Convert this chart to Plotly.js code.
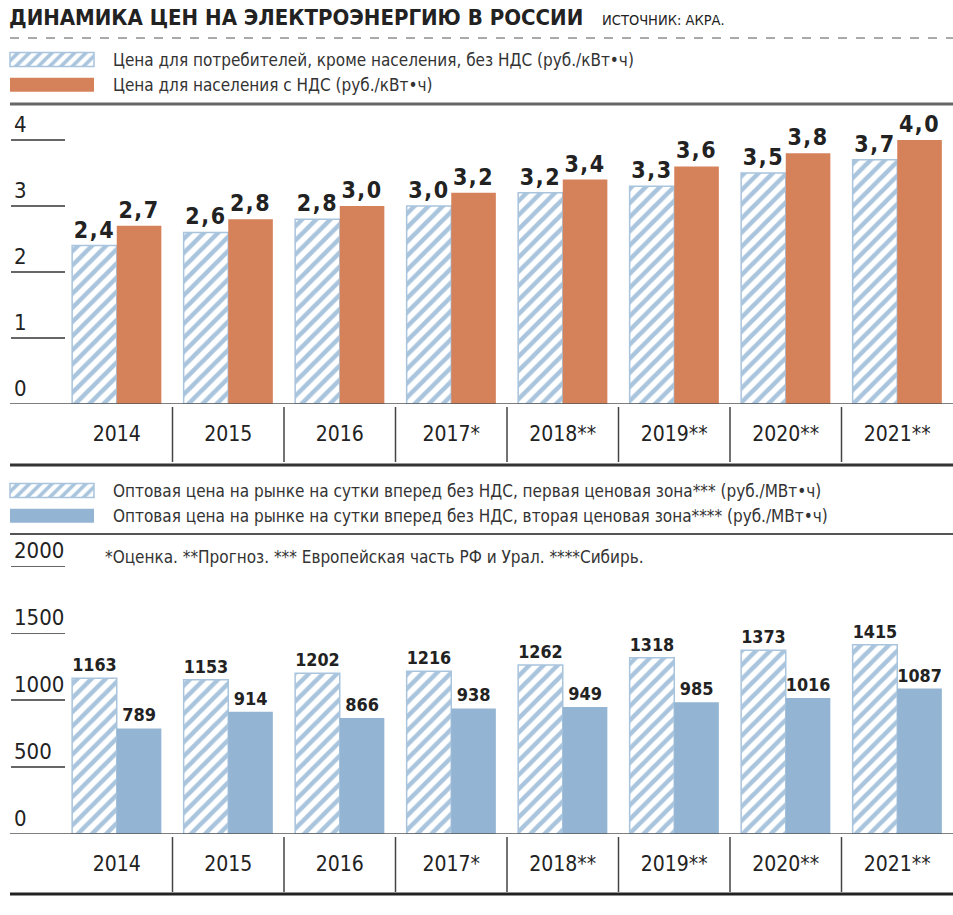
<!DOCTYPE html>
<html><head><meta charset="utf-8">
<script src="https://cdn.plot.ly/plotly-3.0.1.min.js"></script>
<style>
body{margin:0;background:#fff}
#chart{width:953px;height:915px}
.subplot.xy .bartext{letter-spacing:1.5px}
</style></head><body><div id="chart"></div>
<script>
// ---- data ----
const years = ['2014','2015','2016','2017*','2018**','2019**','2020**','2021**'];
const priceBusiness   = [2.4, 2.6, 2.8, 3.0, 3.2, 3.3, 3.5, 3.7];
const priceHouseholds = [2.7, 2.8, 3.0, 3.2, 3.4, 3.6, 3.8, 4.0];
const wholesaleZone1  = [1163, 1153, 1202, 1216, 1262, 1318, 1373, 1415];
const wholesaleZone2  = [789, 914, 866, 938, 949, 985, 1016, 1087];
const priceTicks = [0, 1, 2, 3, 4];
const wholesaleTicks = [0, 500, 1000, 1500, 2000];
const nameBusiness   = 'Цена для потребителей, кроме населения, без НДС (руб./кВт•ч)';
const nameHouseholds = 'Цена для населения с НДС (руб./кВт•ч)';
const nameZone1 = 'Оптовая цена на рынке на сутки вперед без НДС, первая ценовая зона*** (руб./МВт•ч)';
const nameZone2 = 'Оптовая цена на рынке на сутки вперед без НДС, вторая ценовая зона**** (руб./МВт•ч)';
const titleText = 'ДИНАМИКА ЦЕН НА ЭЛЕКТРОЭНЕРГИЮ В РОССИИ';
const sourceText = 'ИСТОЧНИК: АКРА.';
const footnote = '*Оценка. **Прогноз. *** Европейская часть РФ и Урал. ****Сибирь.';

// ---- style ----
const W = 953, H = 915;
const px = x => x / W;
const py = y => 1 - y / H;
const FONT = "'DejaVu Sans Condensed', 'Liberation Sans Narrow', 'Arial Narrow', sans-serif";
const HATCH = '#a9c4dd', ORANGE = '#d5825b', BLUE = '#93b5d3', INK = '#222';

const hatched = {
  color: '#ffffff',
  line: {color: HATCH, width: 1.5},
  pattern: {shape: '/', fgcolor: HATCH, bgcolor: '#ffffff', size: 10, solidity: 0.45}
};

const traces = [
  {type:'bar', x: years, y: priceBusiness, name: nameBusiness, xaxis:'x', yaxis:'y', legend:'legend',
   marker: hatched, texttemplate:'%{y:.1f}', textposition:'outside', cliponaxis:false,
   textfont:{size:23, color:INK, family:FONT, weight:'bold'}, hoverinfo:'skip'},
  {type:'bar', x: years, y: priceHouseholds, name: nameHouseholds, xaxis:'x', yaxis:'y', legend:'legend',
   marker:{color: ORANGE}, texttemplate:'%{y:.1f}', textposition:'outside', cliponaxis:false,
   textfont:{size:23, color:INK, family:FONT, weight:'bold'}, hoverinfo:'skip'},
  {type:'bar', x: years, y: wholesaleZone1, name: nameZone1, xaxis:'x2', yaxis:'y2', legend:'legend2',
   marker: hatched, texttemplate:'%{y:d}', textposition:'outside', cliponaxis:false,
   textfont:{size:18, color:INK, family:FONT, weight:'bold'}, hoverinfo:'skip'},
  {type:'bar', x: years, y: wholesaleZone2, name: nameZone2, xaxis:'x2', yaxis:'y2', legend:'legend2',
   marker:{color: BLUE}, texttemplate:'%{y:d}', textposition:'outside', cliponaxis:false,
   textfont:{size:18, color:INK, family:FONT, weight:'bold'}, hoverinfo:'skip'}
];

const xaxisBase = {
  type:'category', domain:[px(61), 1], showgrid:false, zeroline:false, showline:false,
  ticks:'', ticklabelstandoff:15, tickfont:{size:21, color:INK, family:FONT}, fixedrange:true
};
const yaxisBase = {
  anchor:'free', position: px(10), showgrid:false, zeroline:false, showline:false,
  ticks:'inside', ticklen:54, tickwidth:1.5, tickcolor:'#666',
  ticklabelposition:'inside top', ticklabeloverflow:'allow',
  tickfont:{size:22, color:INK, family:FONT}, fixedrange:true
};

const shapes = [];
const hline = (y, yref, x0, x1, color, width, dash) =>
  shapes.push({type:'line', xref:'paper', yref, x0, x1, y0:y, y1:y, line:{color, width, dash: dash || 'solid'}});
// rules
hline(py(38), 'paper', px(10), 1, '#555', 1, 'dash');
hline(py(104), 'paper', px(10), 1, '#666', 3);
hline(0, 'y', px(10), 1, '#555', 1.5);
hline(py(465), 'paper', px(10), 1, '#333', 3);
hline(py(534), 'paper', px(10), 1, '#555', 2);
hline(0, 'y2', px(10), 1, '#555', 1.5);
hline(py(894), 'paper', px(10), 1, '#222', 3);
// category separators
for (let i = 0; i < years.length - 1; i++) {
  shapes.push({type:'line', xref:'x', yref:'paper', x0:i+0.5, x1:i+0.5, y0:py(407), y1:py(462), line:{color:'#444', width:1.5}});
  shapes.push({type:'line', xref:'x2', yref:'paper', x0:i+0.5, x1:i+0.5, y0:py(837), y1:py(892), line:{color:'#444', width:1.5}});
}

const legendBase = {
  x: 0, xanchor:'left', yanchor:'top', orientation:'v', itemwidth:103,
  font:{size:17, color:'#333', family:FONT}, bgcolor:'rgba(0,0,0,0)', borderwidth:0,
  tracegroupgap:0, itemclick:false, itemdoubleclick:false, traceorder:'normal'
};

const layout = {
  width: W, height: H, margin:{l:0, r:0, t:0, b:0, autoexpand:false},
  paper_bgcolor:'#fff', plot_bgcolor:'#fff',
  font:{family:FONT, color:INK},
  separators: ', ',
  barmode:'group', bargap:0.2, bargroupgap:0,
  showlegend:true,
  title:{
    text:'<b>' + titleText + '</b>   <span style="font-size:14.5px">' + sourceText + '</span>',
    xref:'paper', yref:'paper', x:px(9), xanchor:'left', y:py(17), yanchor:'middle',
    font:{size:22, color:INK, family:FONT}
  },
  xaxis: Object.assign({}, xaxisBase, {anchor:'y'}),
  xaxis2: Object.assign({}, xaxisBase, {anchor:'y2'}),
  yaxis: Object.assign({}, yaxisBase, {domain:[py(404), py(107)], range:[0, 4.5], tickvals: priceTicks}),
  yaxis2: Object.assign({}, yaxisBase, {domain:[py(834), py(539.6)], range:[0, 2200], tickvals: wholesaleTicks}),
  legend: Object.assign({}, legendBase, {y: py(42)}),
  legend2: Object.assign({}, legendBase, {y: py(473)}),
  shapes: shapes,
  annotations:[
    {text: footnote, xref:'paper', yref:'paper', x:px(103), y:py(557), xanchor:'left', yanchor:'middle',
     showarrow:false, font:{size:17, color:'#333', family:FONT}}
  ]
};

function widenSwatches(){
  document.querySelectorAll('.legendpoints path').forEach(p => {
    p.setAttribute('d', 'M37.5,7H-46.5V-7H37.5Z');
  });
}
const gd = document.getElementById('chart');
Plotly.newPlot(gd, traces, layout, {displayModeBar:false, staticPlot:true}).then(() => {
  widenSwatches();
  gd.on && gd.on('plotly_afterplot', widenSwatches);
});
</script></body></html>
